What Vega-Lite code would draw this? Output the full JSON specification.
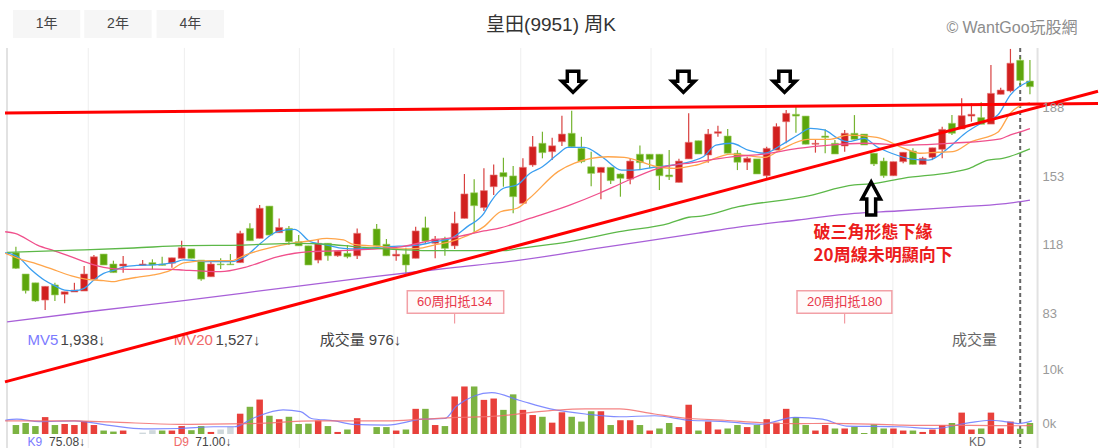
{
  "$schema": "https://vega.github.io/schema/vega-lite/v6.json",
  "width": 1103,
  "height": 448,
  "padding": 0,
  "autosize": {"type": "none"},
  "background": "white",
  "config": {"view": {"stroke": null}, "font": "Liberation Sans, Noto Sans CJK TC, sans-serif"},
  "datasets": {
    "btn": [
      {"t": "1年", "a": -0.3, "b": 6.6, "c": 3.15},
      {"t": "2年", "a": 7.01, "b": 13.92, "c": 10.47},
      {"t": "4年", "a": 14.43, "b": 21.34, "c": 17.89}
    ],
    "hgrid": [{"p": 188}, {"p": 153}, {"p": 118}],
    "vgrid": [{"i": 7.42}, {"i": 17.28}, {"i": 29.07}, {"i": 38.77}, {"i": 51.78}, {"i": 65.14}, {"i": 76.93}, {"i": 89.94}],
    "plabels": [{"i": 105.3, "p": 188, "t": "188"}, {"i": 105.3, "p": 153, "t": "153"}, {"i": 105.3, "p": 118, "t": "118"}, {"i": 105.3, "p": 83, "t": "83"}],
    "vlabels": [{"i": 105.3, "v": 10000, "t": "10k"}, {"i": 105.3, "v": 0, "t": "0k"}],
    "trend": [
      {"g": "top", "i": -1.118, "p": 190.6}, {"g": "top", "i": 110.98, "p": 195.4},
      {"g": "rise", "i": -1.118, "p": 53.2}, {"g": "rise", "i": 110.98, "p": 201.7}
    ],
    "arrDown": [{"i": 57.14, "p": 206.4}, {"i": 68.46, "p": 206.4}, {"i": 78.83, "p": 206.4}],
    "arrUp": [{"i": 87.72, "p": 147.0}],
    "notes": [{"t": "破三角形態下緣", "i": 81.81, "p": 129.2}, {"t": "20周線未明顯向下", "i": 81.81, "p": 117.6}],
    "kd": [
      {"t": "60周扣抵134", "a": 40.14, "b": 50.03, "c": 45.0},
      {"t": "20周扣抵180", "a": 80.11, "b": 89.84, "c": 85.0}
    ],
    "mvrow": [
      {"t": "MV5", "i": 1.2, "k": "mv5"}, {"t": "1,938↓", "i": 4.57, "k": "val"},
      {"t": "MV20", "i": 16.18, "k": "mv20"}, {"t": "1,527↓", "i": 20.46, "k": "val"},
      {"t": "成交量 976↓", "i": 31.15, "k": "val"}, {"t": "成交量", "i": 96.0, "k": "name"}
    ],
    "kdrow": [
      {"t": "K9", "i": 1.2, "k": "mv5"}, {"t": "75.08↓", "i": 3.4, "k": "val"},
      {"t": "D9", "i": 16.18, "k": "mv20"}, {"t": "71.00↓", "i": 18.4, "k": "val"},
      {"t": "KD", "i": 97.76, "k": "name"}
    ],
    "head": [{"t": "皇田(9951) 周K", "i": 54.88, "p": 235.5}],
    "brand": [{"t": "© WantGoo玩股網", "i": 95.43, "p": 234.0}],
    "candles": [
      {"i": 0, "o": 119.2, "h": 122.2, "l": 110.8, "c": 111.2},
      {"i": 1, "o": 108.3, "h": 108.3, "l": 98.4, "c": 99.8},
      {"i": 2, "o": 103.8, "h": 103.8, "l": 94.1, "c": 94.5},
      {"i": 3, "o": 95.0, "h": 102.0, "l": 89.9, "c": 102.0},
      {"i": 4, "o": 102.7, "h": 103.8, "l": 94.5, "c": 97.6},
      {"i": 5, "o": 97.9, "h": 99.2, "l": 93.3, "c": 99.2},
      {"i": 6, "o": 99.1, "h": 103.8, "l": 99.1, "c": 100.1},
      {"i": 7, "o": 99.6, "h": 112.4, "l": 99.6, "c": 108.3},
      {"i": 8, "o": 105.6, "h": 118.0, "l": 105.6, "c": 117.1},
      {"i": 9, "o": 118.5, "h": 118.5, "l": 112.9, "c": 112.9},
      {"i": 10, "o": 113.4, "h": 115.1, "l": 109.0, "c": 109.0},
      {"i": 11, "o": 112.4, "h": 117.5, "l": 109.0, "c": 113.4},
      {"i": 13, "o": 112.7, "h": 115.4, "l": 112.7, "c": 113.4},
      {"i": 14, "o": 114.1, "h": 115.8, "l": 110.7, "c": 112.9},
      {"i": 15, "o": 113.4, "h": 117.1, "l": 112.7, "c": 112.7},
      {"i": 16, "o": 113.8, "h": 116.6, "l": 111.5, "c": 116.6},
      {"i": 17, "o": 116.3, "h": 125.3, "l": 116.3, "c": 121.7},
      {"i": 18, "o": 121.1, "h": 121.1, "l": 116.3, "c": 116.3},
      {"i": 19, "o": 115.4, "h": 115.4, "l": 104.9, "c": 105.7},
      {"i": 20, "o": 106.9, "h": 114.9, "l": 106.9, "c": 113.4},
      {"i": 21, "o": 113.4, "h": 116.3, "l": 110.8, "c": 113.0},
      {"i": 22, "o": 113.4, "h": 118.5, "l": 112.9, "c": 113.0},
      {"i": 23, "o": 114.1, "h": 130.4, "l": 114.1, "c": 129.1},
      {"i": 24, "o": 131.6, "h": 134.2, "l": 125.3, "c": 125.3},
      {"i": 25, "o": 126.5, "h": 143.5, "l": 126.5, "c": 141.9},
      {"i": 26, "o": 143.0, "h": 143.0, "l": 128.2, "c": 128.2},
      {"i": 27, "o": 129.4, "h": 136.7, "l": 129.4, "c": 132.1},
      {"i": 28, "o": 131.6, "h": 132.8, "l": 123.1, "c": 124.8},
      {"i": 29, "o": 124.8, "h": 128.2, "l": 122.7, "c": 122.7},
      {"i": 30, "o": 122.7, "h": 122.7, "l": 112.9, "c": 112.9},
      {"i": 31, "o": 115.4, "h": 126.0, "l": 113.8, "c": 124.0},
      {"i": 32, "o": 124.0, "h": 124.0, "l": 115.1, "c": 117.6},
      {"i": 33, "o": 117.6, "h": 120.0, "l": 117.1, "c": 120.0},
      {"i": 34, "o": 118.9, "h": 123.1, "l": 116.3, "c": 117.1},
      {"i": 35, "o": 117.6, "h": 131.6, "l": 116.0, "c": 129.1},
      {"i": 37, "o": 131.3, "h": 133.8, "l": 122.7, "c": 122.7},
      {"i": 38, "o": 123.5, "h": 126.2, "l": 117.6, "c": 117.6},
      {"i": 39, "o": 117.5, "h": 121.7, "l": 115.1, "c": 118.4},
      {"i": 40, "o": 118.4, "h": 121.7, "l": 107.8, "c": 112.9},
      {"i": 41, "o": 116.3, "h": 132.5, "l": 116.3, "c": 130.3},
      {"i": 42, "o": 131.9, "h": 137.6, "l": 124.0, "c": 125.1},
      {"i": 43, "o": 124.0, "h": 127.7, "l": 116.3, "c": 126.2},
      {"i": 44, "o": 126.2, "h": 127.3, "l": 117.6, "c": 121.4},
      {"i": 45, "o": 122.7, "h": 140.1, "l": 121.1, "c": 134.2},
      {"i": 46, "o": 136.7, "h": 159.4, "l": 136.7, "c": 149.2},
      {"i": 47, "o": 149.8, "h": 156.7, "l": 129.1, "c": 143.2},
      {"i": 48, "o": 142.2, "h": 162.3, "l": 140.5, "c": 150.9},
      {"i": 49, "o": 152.9, "h": 164.3, "l": 148.7, "c": 158.9},
      {"i": 50, "o": 160.1, "h": 167.7, "l": 152.9, "c": 158.0},
      {"i": 51, "o": 158.4, "h": 163.5, "l": 139.3, "c": 147.8},
      {"i": 52, "o": 144.4, "h": 167.4, "l": 144.4, "c": 162.8},
      {"i": 53, "o": 164.0, "h": 178.8, "l": 163.1, "c": 173.3},
      {"i": 54, "o": 175.1, "h": 181.0, "l": 167.4, "c": 170.3},
      {"i": 55, "o": 170.8, "h": 177.9, "l": 166.5, "c": 173.8},
      {"i": 56, "o": 175.9, "h": 189.2, "l": 173.7, "c": 179.8},
      {"i": 57, "o": 180.2, "h": 191.7, "l": 173.0, "c": 173.3},
      {"i": 58, "o": 172.5, "h": 178.4, "l": 164.9, "c": 165.7},
      {"i": 59, "o": 163.1, "h": 170.8, "l": 153.2, "c": 159.7},
      {"i": 60, "o": 160.1, "h": 162.8, "l": 146.5, "c": 162.8},
      {"i": 61, "o": 162.8, "h": 162.8, "l": 154.3, "c": 156.0},
      {"i": 62, "o": 159.4, "h": 159.7, "l": 147.8, "c": 157.2},
      {"i": 63, "o": 156.8, "h": 167.4, "l": 154.1, "c": 166.0},
      {"i": 64, "o": 169.5, "h": 173.9, "l": 161.4, "c": 165.2},
      {"i": 65, "o": 169.5, "h": 169.5, "l": 162.3, "c": 166.9},
      {"i": 66, "o": 169.5, "h": 169.5, "l": 151.2, "c": 158.5},
      {"i": 67, "o": 158.9, "h": 171.6, "l": 156.3, "c": 158.0},
      {"i": 68, "o": 155.1, "h": 167.2, "l": 155.1, "c": 166.0},
      {"i": 69, "o": 167.1, "h": 190.4, "l": 167.1, "c": 175.6},
      {"i": 70, "o": 176.4, "h": 176.4, "l": 169.6, "c": 169.6},
      {"i": 71, "o": 169.1, "h": 182.4, "l": 165.2, "c": 179.8},
      {"i": 72, "o": 180.2, "h": 184.1, "l": 178.4, "c": 181.0},
      {"i": 73, "o": 178.8, "h": 182.4, "l": 170.0, "c": 170.0},
      {"i": 74, "o": 170.0, "h": 171.6, "l": 161.4, "c": 165.4},
      {"i": 75, "o": 165.4, "h": 168.2, "l": 161.4, "c": 167.4},
      {"i": 76, "o": 167.1, "h": 167.1, "l": 159.4, "c": 159.4},
      {"i": 77, "o": 158.5, "h": 173.3, "l": 157.2, "c": 172.5},
      {"i": 78, "o": 171.6, "h": 185.3, "l": 171.6, "c": 183.6},
      {"i": 79, "o": 186.1, "h": 192.1, "l": 175.1, "c": 190.4},
      {"i": 80, "o": 189.9, "h": 193.8, "l": 180.5, "c": 189.0},
      {"i": 81, "o": 189.0, "h": 189.0, "l": 174.6, "c": 174.6},
      {"i": 82, "o": 174.6, "h": 176.8, "l": 170.3, "c": 175.1},
      {"i": 83, "o": 178.8, "h": 182.2, "l": 170.0, "c": 178.1},
      {"i": 84, "o": 175.1, "h": 176.8, "l": 169.6, "c": 169.6},
      {"i": 85, "o": 173.7, "h": 181.9, "l": 170.8, "c": 180.2},
      {"i": 86, "o": 180.2, "h": 189.5, "l": 177.1, "c": 177.1},
      {"i": 87, "o": 179.8, "h": 179.8, "l": 174.2, "c": 174.2},
      {"i": 88, "o": 170.0, "h": 170.0, "l": 163.5, "c": 164.5},
      {"i": 89, "o": 166.0, "h": 167.7, "l": 157.5, "c": 158.5},
      {"i": 90, "o": 158.5, "h": 165.7, "l": 158.5, "c": 165.7},
      {"i": 91, "o": 165.7, "h": 170.5, "l": 164.9, "c": 170.5},
      {"i": 92, "o": 171.1, "h": 172.5, "l": 164.3, "c": 164.3},
      {"i": 93, "o": 164.3, "h": 168.2, "l": 164.3, "c": 167.4},
      {"i": 94, "o": 167.9, "h": 172.8, "l": 166.5, "c": 172.8},
      {"i": 95, "o": 172.0, "h": 183.6, "l": 167.4, "c": 182.2},
      {"i": 96, "o": 185.3, "h": 189.5, "l": 179.3, "c": 180.2},
      {"i": 97, "o": 182.4, "h": 198.1, "l": 182.4, "c": 189.2},
      {"i": 98, "o": 189.0, "h": 195.5, "l": 186.1, "c": 189.9},
      {"i": 99, "o": 188.2, "h": 196.0, "l": 184.8, "c": 184.8},
      {"i": 100, "o": 184.9, "h": 215.1, "l": 184.9, "c": 200.6},
      {"i": 101, "o": 200.1, "h": 203.5, "l": 200.1, "c": 202.3},
      {"i": 102, "o": 201.8, "h": 223.3, "l": 201.1, "c": 216.0},
      {"i": 103, "o": 217.5, "h": 219.2, "l": 204.9, "c": 207.2},
      {"i": 104, "o": 206.9, "h": 217.6, "l": 200.1, "c": 204.0}
    ],
    "ma": [
      {"m": "MA5", "i": -1.1, "v": 119.2}, {"m": "MA5", "i": 0.2, "v": 117.1}, {"m": "MA5", "i": 1.6, "v": 110.3}, {"m": "MA5", "i": 2.9, "v": 105.2},
      {"m": "MA5", "i": 4.0, "v": 102.2}, {"m": "MA5", "i": 5.0, "v": 100.1}, {"m": "MA5", "i": 6.0, "v": 99.8}, {"m": "MA5", "i": 7.0, "v": 101.0},
      {"m": "MA5", "i": 8.0, "v": 105.2}, {"m": "MA5", "i": 9.0, "v": 108.6}, {"m": "MA5", "i": 10.1, "v": 110.3}, {"m": "MA5", "i": 11.1, "v": 112.0},
      {"m": "MA5", "i": 12.4, "v": 112.7}, {"m": "MA5", "i": 14.1, "v": 113.0}, {"m": "MA5", "i": 15.1, "v": 113.4}, {"m": "MA5", "i": 16.2, "v": 114.1},
      {"m": "MA5", "i": 17.2, "v": 115.5}, {"m": "MA5", "i": 20.0, "v": 114.6}, {"m": "MA5", "i": 22.1, "v": 114.6}, {"m": "MA5", "i": 23.5, "v": 117.1},
      {"m": "MA5", "i": 25.1, "v": 124.0}, {"m": "MA5", "i": 26.8, "v": 129.9}, {"m": "MA5", "i": 28.6, "v": 131.1}, {"m": "MA5", "i": 30.2, "v": 124.8},
      {"m": "MA5", "i": 31.9, "v": 123.1}, {"m": "MA5", "i": 33.6, "v": 121.4}, {"m": "MA5", "i": 35.0, "v": 121.1}, {"m": "MA5", "i": 37.8, "v": 122.2},
      {"m": "MA5", "i": 41.3, "v": 123.1}, {"m": "MA5", "i": 42.9, "v": 124.8}, {"m": "MA5", "i": 44.6, "v": 126.5}, {"m": "MA5", "i": 46.3, "v": 132.5},
      {"m": "MA5", "i": 48.0, "v": 139.3}, {"m": "MA5", "i": 48.7, "v": 145.2}, {"m": "MA5", "i": 50.0, "v": 152.1}, {"m": "MA5", "i": 51.4, "v": 153.8},
      {"m": "MA5", "i": 52.7, "v": 159.7}, {"m": "MA5", "i": 54.0, "v": 163.1}, {"m": "MA5", "i": 55.6, "v": 169.6}, {"m": "MA5", "i": 56.6, "v": 173.0},
      {"m": "MA5", "i": 58.3, "v": 173.0}, {"m": "MA5", "i": 60.1, "v": 168.2}, {"m": "MA5", "i": 62.1, "v": 161.4}, {"m": "MA5", "i": 63.4, "v": 161.4},
      {"m": "MA5", "i": 65.8, "v": 163.1}, {"m": "MA5", "i": 67.5, "v": 164.0}, {"m": "MA5", "i": 69.2, "v": 165.7}, {"m": "MA5", "i": 70.5, "v": 168.2},
      {"m": "MA5", "i": 71.8, "v": 174.2}, {"m": "MA5", "i": 73.4, "v": 175.1}, {"m": "MA5", "i": 75.1, "v": 171.6}, {"m": "MA5", "i": 76.8, "v": 170.0},
      {"m": "MA5", "i": 78.5, "v": 174.2}, {"m": "MA5", "i": 80.2, "v": 179.3}, {"m": "MA5", "i": 81.5, "v": 182.7}, {"m": "MA5", "i": 82.9, "v": 181.9},
      {"m": "MA5", "i": 84.3, "v": 177.6}, {"m": "MA5", "i": 85.3, "v": 175.9}, {"m": "MA5", "i": 87.0, "v": 177.6}, {"m": "MA5", "i": 88.3, "v": 173.3},
      {"m": "MA5", "i": 89.8, "v": 170.0}, {"m": "MA5", "i": 91.9, "v": 167.0}, {"m": "MA5", "i": 93.6, "v": 166.5}, {"m": "MA5", "i": 95.6, "v": 172.5},
      {"m": "MA5", "i": 97.3, "v": 180.0}, {"m": "MA5", "i": 99.0, "v": 185.3}, {"m": "MA5", "i": 100.7, "v": 189.5}, {"m": "MA5", "i": 102.0, "v": 199.8},
      {"m": "MA5", "i": 104.0, "v": 206.9},
      {"m": "MA10", "i": -1.1, "v": 118.9}, {"m": "MA10", "i": 0.2, "v": 116.3}, {"m": "MA10", "i": 2.2, "v": 113.4}, {"m": "MA10", "i": 4.0, "v": 110.3},
      {"m": "MA10", "i": 5.7, "v": 107.3}, {"m": "MA10", "i": 7.3, "v": 105.6}, {"m": "MA10", "i": 9.0, "v": 104.9}, {"m": "MA10", "i": 10.1, "v": 104.4},
      {"m": "MA10", "i": 10.8, "v": 105.2}, {"m": "MA10", "i": 12.4, "v": 106.6}, {"m": "MA10", "i": 14.1, "v": 107.8}, {"m": "MA10", "i": 15.9, "v": 110.3},
      {"m": "MA10", "i": 17.2, "v": 114.0}, {"m": "MA10", "i": 20.0, "v": 115.1}, {"m": "MA10", "i": 22.1, "v": 115.1}, {"m": "MA10", "i": 23.5, "v": 118.0},
      {"m": "MA10", "i": 25.1, "v": 120.5}, {"m": "MA10", "i": 26.8, "v": 122.6}, {"m": "MA10", "i": 30.2, "v": 125.3}, {"m": "MA10", "i": 31.9, "v": 126.5},
      {"m": "MA10", "i": 33.6, "v": 125.7}, {"m": "MA10", "i": 34.5, "v": 123.6}, {"m": "MA10", "i": 37.8, "v": 122.2}, {"m": "MA10", "i": 39.5, "v": 121.1},
      {"m": "MA10", "i": 41.3, "v": 121.4}, {"m": "MA10", "i": 42.9, "v": 123.1}, {"m": "MA10", "i": 44.6, "v": 124.8}, {"m": "MA10", "i": 45.6, "v": 126.5},
      {"m": "MA10", "i": 48.0, "v": 132.5}, {"m": "MA10", "i": 49.7, "v": 140.1}, {"m": "MA10", "i": 51.4, "v": 141.9}, {"m": "MA10", "i": 52.7, "v": 147.1},
      {"m": "MA10", "i": 55.6, "v": 160.6}, {"m": "MA10", "i": 57.3, "v": 164.9}, {"m": "MA10", "i": 60.7, "v": 168.2}, {"m": "MA10", "i": 62.4, "v": 167.9},
      {"m": "MA10", "i": 65.8, "v": 163.1}, {"m": "MA10", "i": 67.5, "v": 162.3}, {"m": "MA10", "i": 69.8, "v": 164.0}, {"m": "MA10", "i": 73.4, "v": 169.6},
      {"m": "MA10", "i": 76.8, "v": 167.9}, {"m": "MA10", "i": 78.5, "v": 172.0}, {"m": "MA10", "i": 81.2, "v": 177.1}, {"m": "MA10", "i": 83.5, "v": 177.1},
      {"m": "MA10", "i": 85.3, "v": 179.3}, {"m": "MA10", "i": 88.3, "v": 178.1}, {"m": "MA10", "i": 91.1, "v": 172.5}, {"m": "MA10", "i": 92.7, "v": 170.0},
      {"m": "MA10", "i": 94.6, "v": 170.5}, {"m": "MA10", "i": 96.1, "v": 170.8}, {"m": "MA10", "i": 98.0, "v": 175.9}, {"m": "MA10", "i": 100.7, "v": 180.7},
      {"m": "MA10", "i": 102.0, "v": 190.6}, {"m": "MA10", "i": 104.0, "v": 195.9},
      {"m": "MA20", "i": -1.1, "v": 129.9}, {"m": "MA20", "i": -0.1, "v": 129.1}, {"m": "MA20", "i": 2.2, "v": 123.1}, {"m": "MA20", "i": 4.0, "v": 120.0},
      {"m": "MA20", "i": 5.7, "v": 117.1}, {"m": "MA20", "i": 7.3, "v": 114.1}, {"m": "MA20", "i": 9.0, "v": 111.7}, {"m": "MA20", "i": 10.8, "v": 110.8},
      {"m": "MA20", "i": 12.4, "v": 110.7}, {"m": "MA20", "i": 14.1, "v": 110.8}, {"m": "MA20", "i": 15.9, "v": 110.7}, {"m": "MA20", "i": 17.2, "v": 110.3},
      {"m": "MA20", "i": 21.0, "v": 109.5}, {"m": "MA20", "i": 23.5, "v": 111.7}, {"m": "MA20", "i": 26.8, "v": 117.1}, {"m": "MA20", "i": 28.6, "v": 118.9},
      {"m": "MA20", "i": 30.2, "v": 119.7}, {"m": "MA20", "i": 31.9, "v": 120.0}, {"m": "MA20", "i": 34.5, "v": 120.5}, {"m": "MA20", "i": 39.5, "v": 122.2},
      {"m": "MA20", "i": 42.9, "v": 125.7}, {"m": "MA20", "i": 44.6, "v": 126.8}, {"m": "MA20", "i": 48.0, "v": 130.3}, {"m": "MA20", "i": 49.7, "v": 131.9},
      {"m": "MA20", "i": 52.7, "v": 136.7}, {"m": "MA20", "i": 56.8, "v": 143.5}, {"m": "MA20", "i": 59.9, "v": 149.7}, {"m": "MA20", "i": 62.4, "v": 155.3},
      {"m": "MA20", "i": 65.8, "v": 162.2}, {"m": "MA20", "i": 69.8, "v": 165.5}, {"m": "MA20", "i": 73.4, "v": 168.2}, {"m": "MA20", "i": 76.8, "v": 169.6},
      {"m": "MA20", "i": 80.2, "v": 172.5}, {"m": "MA20", "i": 83.5, "v": 174.2}, {"m": "MA20", "i": 87.0, "v": 175.1}, {"m": "MA20", "i": 91.2, "v": 174.2},
      {"m": "MA20", "i": 96.2, "v": 175.2}, {"m": "MA20", "i": 101.0, "v": 177.4}, {"m": "MA20", "i": 102.0, "v": 179.4}, {"m": "MA20", "i": 103.0, "v": 180.9},
      {"m": "MA20", "i": 104.0, "v": 182.6},
      {"m": "MA60", "i": -0.9, "v": 119.4}, {"m": "MA60", "i": 6.0, "v": 120.5}, {"m": "MA60", "i": 12.1, "v": 121.6}, {"m": "MA60", "i": 17.2, "v": 122.8},
      {"m": "MA60", "i": 23.3, "v": 123.1}, {"m": "MA60", "i": 28.9, "v": 124.0}, {"m": "MA60", "i": 31.9, "v": 123.5}, {"m": "MA60", "i": 35.0, "v": 122.2},
      {"m": "MA60", "i": 43.3, "v": 120.2}, {"m": "MA60", "i": 50.0, "v": 120.2}, {"m": "MA60", "i": 51.7, "v": 121.4}, {"m": "MA60", "i": 56.8, "v": 124.8},
      {"m": "MA60", "i": 61.9, "v": 129.9}, {"m": "MA60", "i": 67.0, "v": 134.2}, {"m": "MA60", "i": 69.0, "v": 137.3}, {"m": "MA60", "i": 70.3, "v": 137.9},
      {"m": "MA60", "i": 74.1, "v": 142.7}, {"m": "MA60", "i": 80.9, "v": 147.8}, {"m": "MA60", "i": 86.0, "v": 153.8}, {"m": "MA60", "i": 87.6, "v": 154.3},
      {"m": "MA60", "i": 91.1, "v": 157.3}, {"m": "MA60", "i": 96.1, "v": 160.4}, {"m": "MA60", "i": 97.8, "v": 162.3}, {"m": "MA60", "i": 99.7, "v": 166.5},
      {"m": "MA60", "i": 101.2, "v": 167.4}, {"m": "MA60", "i": 104.0, "v": 172.2},
      {"m": "MA120", "i": -0.9, "v": 83.8}, {"m": "MA120", "i": 8.0, "v": 89.4}, {"m": "MA120", "i": 17.2, "v": 94.7}, {"m": "MA120", "i": 27.3, "v": 101.1},
      {"m": "MA120", "i": 36.5, "v": 106.8}, {"m": "MA120", "i": 44.6, "v": 111.4}, {"m": "MA120", "i": 51.7, "v": 115.4}, {"m": "MA120", "i": 59.9, "v": 121.6},
      {"m": "MA120", "i": 70.0, "v": 129.2}, {"m": "MA120", "i": 74.1, "v": 132.3}, {"m": "MA120", "i": 80.2, "v": 135.9}, {"m": "MA120", "i": 86.0, "v": 139.3},
      {"m": "MA120", "i": 90.4, "v": 140.5}, {"m": "MA120", "i": 96.4, "v": 142.5}, {"m": "MA120", "i": 101.2, "v": 144.1}, {"m": "MA120", "i": 104.0, "v": 146.1}
    ],
    "vol": [
      {"i": 0, "v": 1660, "d": "down"}, {"i": 1, "v": 2040, "d": "down"}, {"i": 2, "v": 1470, "d": "down"}, {"i": 3, "v": 3130, "d": "up"},
      {"i": 4, "v": 1660, "d": "down"}, {"i": 5, "v": 1850, "d": "up"}, {"i": 6, "v": 1660, "d": "up"}, {"i": 7, "v": 2360, "d": "up"},
      {"i": 8, "v": 1660, "d": "up"}, {"i": 9, "v": 640, "d": "down"}, {"i": 10, "v": 450, "d": "down"}, {"i": 11, "v": 640, "d": "up"},
      {"i": 13, "v": 255, "d": "flat"}, {"i": 14, "v": 700, "d": "flat"}, {"i": 15, "v": 640, "d": "down"}, {"i": 16, "v": 640, "d": "up"},
      {"i": 17, "v": 1470, "d": "up"}, {"i": 18, "v": 700, "d": "down"}, {"i": 19, "v": 1470, "d": "down"}, {"i": 20, "v": 380, "d": "up"},
      {"i": 21, "v": 830, "d": "flat"}, {"i": 22, "v": 1340, "d": "flat"}, {"i": 23, "v": 3760, "d": "up"}, {"i": 24, "v": 5040, "d": "down"},
      {"i": 25, "v": 6380, "d": "up"}, {"i": 26, "v": 3380, "d": "down"}, {"i": 27, "v": 2740, "d": "up"}, {"i": 28, "v": 3190, "d": "down"},
      {"i": 29, "v": 1850, "d": "down"}, {"i": 30, "v": 1910, "d": "down"}, {"i": 31, "v": 2490, "d": "up"}, {"i": 32, "v": 1470, "d": "down"},
      {"i": 33, "v": 380, "d": "up"}, {"i": 34, "v": 830, "d": "down"}, {"i": 35, "v": 2930, "d": "up"}, {"i": 37, "v": 1280, "d": "down"},
      {"i": 38, "v": 1280, "d": "down"}, {"i": 39, "v": 640, "d": "up"}, {"i": 40, "v": 830, "d": "down"}, {"i": 41, "v": 4660, "d": "up"},
      {"i": 42, "v": 4660, "d": "down"}, {"i": 43, "v": 1660, "d": "up"}, {"i": 44, "v": 1470, "d": "down"}, {"i": 45, "v": 6950, "d": "up"},
      {"i": 46, "v": 8800, "d": "up"}, {"i": 47, "v": 8800, "d": "down"}, {"i": 48, "v": 6320, "d": "up"}, {"i": 49, "v": 6570, "d": "up"},
      {"i": 50, "v": 4470, "d": "down"}, {"i": 51, "v": 7340, "d": "down"}, {"i": 52, "v": 4470, "d": "up"}, {"i": 53, "v": 3510, "d": "up"},
      {"i": 54, "v": 3190, "d": "down"}, {"i": 55, "v": 2100, "d": "up"}, {"i": 56, "v": 4020, "d": "up"}, {"i": 57, "v": 3190, "d": "down"},
      {"i": 58, "v": 2300, "d": "down"}, {"i": 59, "v": 4210, "d": "down"}, {"i": 60, "v": 4210, "d": "up"}, {"i": 61, "v": 1660, "d": "down"},
      {"i": 62, "v": 2550, "d": "up"}, {"i": 63, "v": 2550, "d": "up"}, {"i": 64, "v": 1660, "d": "down"}, {"i": 65, "v": 640, "d": "up"},
      {"i": 66, "v": 1020, "d": "down"}, {"i": 67, "v": 2040, "d": "down"}, {"i": 68, "v": 1280, "d": "up"}, {"i": 69, "v": 5420, "d": "up"},
      {"i": 70, "v": 640, "d": "down"}, {"i": 71, "v": 2300, "d": "up"}, {"i": 72, "v": 830, "d": "up"}, {"i": 73, "v": 1020, "d": "down"},
      {"i": 74, "v": 1660, "d": "down"}, {"i": 75, "v": 1280, "d": "up"}, {"i": 76, "v": 1660, "d": "down"}, {"i": 77, "v": 2740, "d": "up"},
      {"i": 78, "v": 2100, "d": "up"}, {"i": 79, "v": 4660, "d": "up"}, {"i": 80, "v": 3130, "d": "down"}, {"i": 81, "v": 1660, "d": "down"},
      {"i": 82, "v": 640, "d": "up"}, {"i": 83, "v": 1660, "d": "up"}, {"i": 84, "v": 1020, "d": "down"}, {"i": 85, "v": 1020, "d": "up"},
      {"i": 86, "v": 1340, "d": "down"}, {"i": 87, "v": 190, "d": "down"}, {"i": 88, "v": 1790, "d": "down"}, {"i": 89, "v": 1020, "d": "down"},
      {"i": 90, "v": 1020, "d": "up"}, {"i": 91, "v": 640, "d": "up"}, {"i": 92, "v": 640, "d": "down"}, {"i": 93, "v": 380, "d": "up"},
      {"i": 94, "v": 830, "d": "up"}, {"i": 95, "v": 1660, "d": "up"}, {"i": 96, "v": 2040, "d": "down"}, {"i": 97, "v": 3960, "d": "up"},
      {"i": 98, "v": 830, "d": "up"}, {"i": 99, "v": 1020, "d": "down"}, {"i": 100, "v": 3960, "d": "up"}, {"i": 101, "v": 1020, "d": "up"},
      {"i": 102, "v": 2300, "d": "up"}, {"i": 103, "v": 976, "d": "down"}, {"i": 104, "v": 2040, "d": "down"}
    ],
    "volma": [
      {"m": "MV5", "i": -1.1, "v": 2550}, {"m": "MV5", "i": 0.1, "v": 2740}, {"m": "MV5", "i": 2.4, "v": 2300}, {"m": "MV5", "i": 6.0, "v": 2420},
      {"m": "MV5", "i": 9.6, "v": 1590}, {"m": "MV5", "i": 13.1, "v": 960}, {"m": "MV5", "i": 16.7, "v": 1020}, {"m": "MV5", "i": 20.3, "v": 1340},
      {"m": "MV5", "i": 22.4, "v": 1340}, {"m": "MV5", "i": 24.5, "v": 3060}, {"m": "MV5", "i": 27.4, "v": 4470}, {"m": "MV5", "i": 29.2, "v": 4150},
      {"m": "MV5", "i": 30.3, "v": 2870}, {"m": "MV5", "i": 32.7, "v": 2420}, {"m": "MV5", "i": 34.5, "v": 1790}, {"m": "MV5", "i": 38.1, "v": 1660},
      {"m": "MV5", "i": 41.7, "v": 2740}, {"m": "MV5", "i": 44.0, "v": 2870}, {"m": "MV5", "i": 45.2, "v": 5170}, {"m": "MV5", "i": 48.8, "v": 7660},
      {"m": "MV5", "i": 51.6, "v": 6250}, {"m": "MV5", "i": 54.8, "v": 4660}, {"m": "MV5", "i": 58.4, "v": 3700}, {"m": "MV5", "i": 61.9, "v": 3190},
      {"m": "MV5", "i": 65.5, "v": 3380}, {"m": "MV5", "i": 69.1, "v": 2550}, {"m": "MV5", "i": 70.9, "v": 2420}, {"m": "MV5", "i": 72.7, "v": 2300},
      {"m": "MV5", "i": 76.3, "v": 1790}, {"m": "MV5", "i": 79.9, "v": 3060}, {"m": "MV5", "i": 82.7, "v": 2740}, {"m": "MV5", "i": 85.2, "v": 1470},
      {"m": "MV5", "i": 90.6, "v": 1340}, {"m": "MV5", "i": 94.2, "v": 1020}, {"m": "MV5", "i": 97.8, "v": 2100}, {"m": "MV5", "i": 99.9, "v": 2550},
      {"m": "MV5", "i": 101.4, "v": 2300}, {"m": "MV5", "i": 102.8, "v": 1938}, {"m": "MV5", "i": 104.2, "v": 2420},
      {"m": "MV20", "i": -1.1, "v": 2420}, {"m": "MV20", "i": 6.0, "v": 2420}, {"m": "MV20", "i": 9.6, "v": 2240}, {"m": "MV20", "i": 16.7, "v": 1790},
      {"m": "MV20", "i": 23.8, "v": 1910}, {"m": "MV20", "i": 30.9, "v": 2420}, {"m": "MV20", "i": 38.1, "v": 2420}, {"m": "MV20", "i": 41.7, "v": 2740},
      {"m": "MV20", "i": 45.2, "v": 3060}, {"m": "MV20", "i": 48.8, "v": 3250}, {"m": "MV20", "i": 54.8, "v": 4330}, {"m": "MV20", "i": 58.4, "v": 4660},
      {"m": "MV20", "i": 61.9, "v": 4660}, {"m": "MV20", "i": 65.5, "v": 3700}, {"m": "MV20", "i": 69.1, "v": 2870}, {"m": "MV20", "i": 72.7, "v": 2550},
      {"m": "MV20", "i": 76.3, "v": 2100}, {"m": "MV20", "i": 79.9, "v": 1910}, {"m": "MV20", "i": 83.5, "v": 1980}, {"m": "MV20", "i": 90.6, "v": 1660},
      {"m": "MV20", "i": 94.2, "v": 1590}, {"m": "MV20", "i": 97.8, "v": 1590}, {"m": "MV20", "i": 102.8, "v": 1527}, {"m": "MV20", "i": 104.2, "v": 1600}
    ]
  },
  "encoding": {
    "x": {"field": "i", "type": "quantitative", "scale": {"domain": [-1.118, 110.98], "nice": false, "zero": false}, "axis": null}
  },
  "resolve": {"scale": {"y": "independent", "color": "independent"}},
  "layer": [
    {
      "data": {"name": "btn"},
      "mark": {"type": "rect", "fill": "#f6f6f6"},
      "encoding": {
        "x": {"field": "a", "type": "quantitative"},
        "x2": {"field": "b"},
        "y": {"datum": 243.2, "type": "quantitative", "scale": {"domain": [19.4, 248.3], "nice": false, "zero": false}, "axis": null},
        "y2": {"datum": 228.9}
      }
    },
    {
      "data": {"name": "btn"},
      "mark": {"type": "text", "fontSize": 14, "color": "#444444", "align": "center", "baseline": "middle"},
      "encoding": {
        "x": {"field": "c", "type": "quantitative"},
        "y": {"datum": 236.0, "type": "quantitative", "scale": {"domain": [19.4, 248.3], "nice": false, "zero": false}, "axis": null},
        "text": {"field": "t"}
      }
    },
    {
      "data": {"name": "head"},
      "mark": {"type": "text", "fontSize": 19, "color": "#333333", "align": "center", "baseline": "middle"},
      "encoding": {
        "y": {"field": "p", "type": "quantitative", "scale": {"domain": [19.4, 248.3], "nice": false, "zero": false}, "axis": null},
        "text": {"field": "t"}
      }
    },
    {
      "data": {"name": "brand"},
      "mark": {"type": "text", "fontSize": 16, "color": "#8c8c8c", "align": "left", "baseline": "middle"},
      "encoding": {
        "y": {"field": "p", "type": "quantitative", "scale": {"domain": [19.4, 248.3], "nice": false, "zero": false}, "axis": null},
        "text": {"field": "t"}
      }
    },
    {
      "data": {"name": "vgrid"},
      "mark": {"type": "rule", "color": "#eeeeee", "strokeWidth": 1},
      "encoding": {
        "y": {"datum": 223.8, "type": "quantitative", "scale": {"domain": [19.4, 248.3], "nice": false, "zero": false}, "axis": null},
        "y2": {"datum": 19.4}
      }
    },
    {
      "data": {"name": "hgrid"},
      "mark": {"type": "rule", "color": "#e8e8e8", "strokeWidth": 1},
      "encoding": {
        "x": {"datum": -0.91, "type": "quantitative"},
        "x2": {"datum": 104.78},
        "y": {"field": "p", "type": "quantitative", "scale": {"domain": [19.4, 248.3], "nice": false, "zero": false}, "axis": null}
      }
    },
    {
      "data": {"values": [{"p": 223.8}]},
      "mark": {"type": "rule", "color": "#e4e4e4", "strokeWidth": 2},
      "encoding": {
        "x": {"datum": -1.118, "type": "quantitative"},
        "x2": {"datum": 104.78},
        "y": {"field": "p", "type": "quantitative", "scale": {"domain": [19.4, 248.3], "nice": false, "zero": false}, "axis": null}
      }
    },
    {
      "data": {"values": [{"i": -0.91}, {"i": 104.78}]},
      "mark": {"type": "rule", "color": "#e2e2e2", "strokeWidth": 2},
      "encoding": {
        "y": {"datum": 223.8, "type": "quantitative", "scale": {"domain": [19.4, 248.3], "nice": false, "zero": false}, "axis": null},
        "y2": {"datum": 19.4}
      }
    },
    {
      "data": {"values": [{"p": 83.0}]},
      "mark": {"type": "rule", "color": "#d4d4d4", "strokeWidth": 2.5},
      "encoding": {
        "x": {"datum": -1.118, "type": "quantitative"},
        "x2": {"datum": 104.78},
        "y": {"field": "p", "type": "quantitative", "scale": {"domain": [19.4, 248.3], "nice": false, "zero": false}, "axis": null}
      }
    },
    {
      "data": {"values": [{"v": 10000}]},
      "mark": {"type": "rule", "color": "#e8e8e8", "strokeWidth": 1},
      "encoding": {
        "x": {"datum": -0.91, "type": "quantitative"},
        "x2": {"datum": 104.78},
        "y": {"field": "v", "type": "quantitative", "scale": {"domain": [-2593, 80370], "nice": false, "zero": false}, "axis": null}
      }
    },
    {
      "data": {"values": [{"v": 0}]},
      "mark": {"type": "rule", "color": "#d4d4d4", "strokeWidth": 2.5},
      "encoding": {
        "x": {"datum": -1.118, "type": "quantitative"},
        "x2": {"datum": 104.78},
        "y": {"field": "v", "type": "quantitative", "scale": {"domain": [-2593, 80370], "nice": false, "zero": false}, "axis": null}
      }
    },
    {
      "data": {"values": [{"p": 207.4}]},
      "mark": {"type": "rule", "color": "#7a7a7a", "strokeWidth": 1.6, "strokeDash": [4, 2.5]},
      "encoding": {
        "x": {"datum": -0.91, "type": "quantitative"},
        "x2": {"datum": 104.6},
        "y": {"field": "p", "type": "quantitative", "scale": {"domain": [19.4, 248.3], "nice": false, "zero": false}, "axis": null}
      }
    },
    {
      "data": {"values": [{"i": 103}]},
      "mark": {"type": "rule", "color": "#666666", "strokeWidth": 2, "strokeDash": [4, 3]},
      "encoding": {
        "y": {"datum": 223.8, "type": "quantitative", "scale": {"domain": [19.4, 248.3], "nice": false, "zero": false}, "axis": null},
        "y2": {"datum": 19.4}
      }
    },
    {
      "data": {"name": "candles"},
      "mark": {"type": "rule", "strokeWidth": 1.2, "opacity": 0.85},
      "encoding": {
        "y": {"field": "l", "type": "quantitative", "scale": {"domain": [19.4, 248.3], "nice": false, "zero": false}, "axis": null},
        "y2": {"field": "h"},
        "color": {"condition": {"test": "datum.c >= datum.o", "value": "#d1201f"}, "value": "#5da60c"}
      }
    },
    {
      "data": {"name": "candles"},
      "mark": {"type": "bar", "orient": "vertical", "width": 7, "strokeWidth": 1, "strokeOpacity": 0.6},
      "encoding": {
        "y": {"field": "o", "type": "quantitative", "scale": {"domain": [19.4, 248.3], "nice": false, "zero": false}, "axis": null},
        "y2": {"field": "c"},
        "color": {"condition": {"test": "datum.c >= datum.o", "value": "#d1201f"}, "value": "#5da60c"},
        "stroke": {"condition": {"test": "datum.c >= datum.o", "value": "#e87a7a"}, "value": "#9ccf60"}
      }
    },
    {
      "data": {"name": "ma"},
      "mark": {"type": "line", "strokeWidth": 1.3, "interpolate": "monotone"},
      "encoding": {
        "y": {"field": "v", "type": "quantitative", "scale": {"domain": [19.4, 248.3], "nice": false, "zero": false}, "axis": null},
        "color": {"field": "m", "type": "nominal", "scale": {"domain": ["MA5", "MA10", "MA20", "MA60", "MA120"], "range": ["#3a9ef0", "#ffa54a", "#f0508c", "#5cb848", "#a860d8"]}, "legend": null}
      }
    },
    {
      "data": {"name": "vol"},
      "mark": {"type": "bar", "orient": "vertical", "width": 6.5},
      "encoding": {
        "y": {"field": "v", "type": "quantitative", "scale": {"domain": [-2593, 80370], "nice": false, "zero": false}, "axis": null},
        "y2": {"datum": 0},
        "color": {"field": "d", "type": "nominal", "scale": {"domain": ["up", "down", "flat"], "range": ["#e8403b", "#7cb342", "#cfd8dc"]}, "legend": null}
      }
    },
    {
      "data": {"name": "volma"},
      "mark": {"type": "line", "strokeWidth": 1.2, "interpolate": "monotone", "opacity": 0.85},
      "encoding": {
        "y": {"field": "v", "type": "quantitative", "scale": {"domain": [-2593, 80370], "nice": false, "zero": false}, "axis": null},
        "color": {"field": "m", "type": "nominal", "scale": {"domain": ["MV5", "MV20"], "range": ["#6b78ff", "#f26d6d"]}, "legend": null}
      }
    },
    {
      "data": {"name": "mvrow"},
      "mark": {"type": "text", "fontSize": 15, "align": "left", "baseline": "middle"},
      "encoding": {
        "y": {"datum": 74.6, "type": "quantitative", "scale": {"domain": [19.4, 248.3], "nice": false, "zero": false}, "axis": null},
        "text": {"field": "t"},
        "color": {"field": "k", "type": "nominal", "scale": {"domain": ["mv5", "mv20", "val", "name"], "range": ["#7b7bff", "#f06a6a", "#444444", "#666666"]}, "legend": null}
      }
    },
    {
      "data": {"name": "kdrow"},
      "mark": {"type": "text", "fontSize": 12, "align": "left", "baseline": "middle"},
      "encoding": {
        "y": {"datum": 22.6, "type": "quantitative", "scale": {"domain": [19.4, 248.3], "nice": false, "zero": false}, "axis": null},
        "text": {"field": "t"},
        "color": {"field": "k", "type": "nominal", "scale": {"domain": ["mv5", "mv20", "val", "name"], "range": ["#7b7bff", "#f06a6a", "#444444", "#666666"]}, "legend": null}
      }
    },
    {
      "data": {"name": "kd"},
      "mark": {"type": "rule", "color": "#f08890", "strokeWidth": 1},
      "encoding": {
        "x": {"field": "c", "type": "quantitative"},
        "y": {"datum": 88.3, "type": "quantitative", "scale": {"domain": [19.4, 248.3], "nice": false, "zero": false}, "axis": null},
        "y2": {"datum": 83.0}
      }
    },
    {
      "data": {"name": "kd"},
      "mark": {"type": "rect", "fill": "#fffafa", "stroke": "#f2a0a6", "strokeWidth": 1.5},
      "encoding": {
        "x": {"field": "a", "type": "quantitative"},
        "x2": {"field": "b"},
        "y": {"datum": 99.8, "type": "quantitative", "scale": {"domain": [19.4, 248.3], "nice": false, "zero": false}, "axis": null},
        "y2": {"datum": 88.3}
      }
    },
    {
      "data": {"name": "kd"},
      "mark": {"type": "text", "fontSize": 13, "color": "#e8384a", "align": "center", "baseline": "middle"},
      "encoding": {
        "x": {"field": "c", "type": "quantitative"},
        "y": {"datum": 94.0, "type": "quantitative", "scale": {"domain": [19.4, 248.3], "nice": false, "zero": false}, "axis": null},
        "text": {"field": "t"}
      }
    },
    {
      "data": {"name": "trend"},
      "mark": {"type": "line", "color": "#ff0000", "strokeWidth": 3},
      "encoding": {
        "y": {"field": "p", "type": "quantitative", "scale": {"domain": [19.4, 248.3], "nice": false, "zero": false}, "axis": null},
        "detail": {"field": "g"}
      }
    },
    {
      "data": {"name": "arrDown"},
      "mark": {"type": "point", "shape": "M-0.44,-0.83L0.44,-0.83L0.44,-0.05L0.86,-0.05L0,0.8L-0.86,-0.05L-0.44,-0.05Z", "size": 676, "filled": true, "fill": "#ffffff", "stroke": "#000000", "strokeWidth": 3.5, "opacity": 1, "strokeJoin": "miter"},
      "encoding": {
        "y": {"field": "p", "type": "quantitative", "scale": {"domain": [19.4, 248.3], "nice": false, "zero": false}, "axis": null}
      }
    },
    {
      "data": {"name": "arrUp"},
      "mark": {"type": "point", "shape": "M0,-0.88L0.5,0.04L0.24,0.04L0.24,0.9L-0.24,0.9L-0.24,0.04L-0.5,0.04Z", "size": 1369, "filled": true, "fill": "#ffffff", "stroke": "#000000", "strokeWidth": 3.5, "opacity": 1, "strokeJoin": "miter"},
      "encoding": {
        "y": {"field": "p", "type": "quantitative", "scale": {"domain": [19.4, 248.3], "nice": false, "zero": false}, "axis": null}
      }
    },
    {
      "data": {"name": "notes"},
      "mark": {"type": "text", "fontSize": 17, "fontWeight": "bold", "color": "#ec1c1c", "align": "left", "baseline": "middle", "font": "Noto Sans CJK TC"},
      "encoding": {
        "y": {"field": "p", "type": "quantitative", "scale": {"domain": [19.4, 248.3], "nice": false, "zero": false}, "axis": null},
        "text": {"field": "t"}
      }
    },
    {
      "data": {"name": "plabels"},
      "mark": {"type": "text", "fontSize": 13, "color": "#9a9a9a", "align": "left", "baseline": "middle", "dy": -10},
      "encoding": {
        "y": {"field": "p", "type": "quantitative", "scale": {"domain": [19.4, 248.3], "nice": false, "zero": false}, "axis": null},
        "text": {"field": "t"}
      }
    },
    {
      "data": {"name": "vlabels"},
      "mark": {"type": "text", "fontSize": 13, "color": "#9a9a9a", "align": "left", "baseline": "middle", "dy": -10},
      "encoding": {
        "y": {"field": "v", "type": "quantitative", "scale": {"domain": [-2593, 80370], "nice": false, "zero": false}, "axis": null},
        "text": {"field": "t"}
      }
    }
  ]
}
